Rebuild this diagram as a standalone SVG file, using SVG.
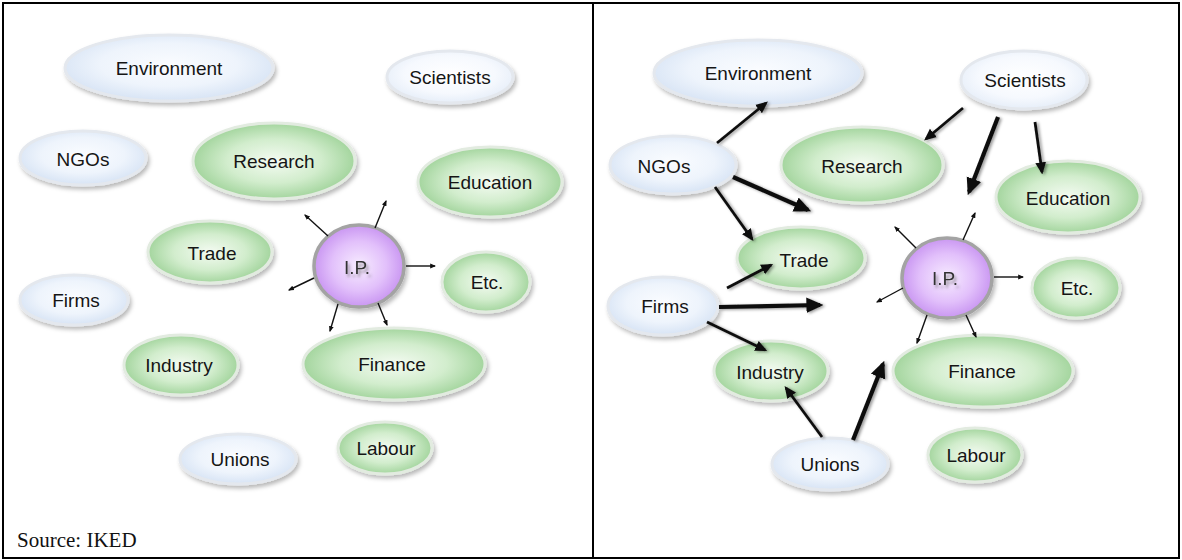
<svg xmlns="http://www.w3.org/2000/svg" width="1182" height="560" viewBox="0 0 1182 560">
<defs>
<style>
.lbl{font-family:"Liberation Sans",Arial,sans-serif;font-size:19px;fill:#151515;text-anchor:middle}
.b{fill:url(#gb);stroke:#e4e8ee;stroke-width:3;filter:url(#sh)}
.w{fill:url(#gw);stroke:#e4e8ee;stroke-width:3;filter:url(#sh)}
.g{fill:url(#gg);stroke:#e2ebe0;stroke-width:3;filter:url(#sh)}
.p{fill:url(#gp);stroke:#a3a3a3;stroke-width:3.5;filter:url(#sh)}
.ipt{font-family:"Liberation Sans",Arial,sans-serif;font-size:19px;fill:#333;text-anchor:middle;filter:url(#ts)}
.thin{stroke:#111;stroke-width:1.4;fill:none;marker-end:url(#ms)}
.med{stroke:#111;stroke-width:2.8;fill:none;marker-end:url(#mm);filter:url(#ash)}
.thk{stroke:#111;stroke-width:4.2;fill:none;marker-end:url(#ml);filter:url(#ash)}
</style>
<radialGradient id="gb" cx="50%" cy="45%" r="60%"><stop offset="0" stop-color="#fafcff"/><stop offset="0.55" stop-color="#eef4fc"/><stop offset="1" stop-color="#d2e0f3"/></radialGradient>
<radialGradient id="gw" cx="50%" cy="45%" r="60%"><stop offset="0" stop-color="#ffffff"/><stop offset="0.6" stop-color="#f6f9fe"/><stop offset="1" stop-color="#e2ebf7"/></radialGradient>
<radialGradient id="gg" cx="50%" cy="50%" r="58%"><stop offset="0" stop-color="#f4fbf2"/><stop offset="0.5" stop-color="#d2edcd"/><stop offset="1" stop-color="#92cc8c"/></radialGradient>
<radialGradient id="gp" cx="50%" cy="50%" r="55%"><stop offset="0" stop-color="#f7ecff"/><stop offset="0.55" stop-color="#e2c0fb"/><stop offset="1" stop-color="#c38cef"/></radialGradient>
<filter id="sh" x="-20%" y="-25%" width="150%" height="170%"><feDropShadow dx="2" dy="3" stdDeviation="2" flood-color="#000" flood-opacity="0.28"/></filter>
<filter id="ash" filterUnits="userSpaceOnUse" x="0" y="0" width="1182" height="560"><feDropShadow dx="2" dy="1" stdDeviation="1.5" flood-color="#000" flood-opacity="0.4"/></filter>
<filter id="ts" x="-20%" y="-40%" width="150%" height="190%"><feDropShadow dx="2" dy="3" stdDeviation="1.5" flood-color="#555" flood-opacity="0.6"/></filter>
<marker id="ms" viewBox="0 0 10 10" refX="8" refY="5" markerWidth="6" markerHeight="6" orient="auto" markerUnits="userSpaceOnUse"><path d="M0,1 L10,5 L0,9 z" fill="#111"/></marker>
<marker id="mm" viewBox="0 0 10 10" refX="8" refY="5" markerWidth="12" markerHeight="12" orient="auto" markerUnits="userSpaceOnUse"><path d="M0,0.5 L10,5 L0,9.5 z" fill="#111"/></marker>
<marker id="ml" viewBox="0 0 10 10" refX="8" refY="5" markerWidth="17" markerHeight="17" orient="auto" markerUnits="userSpaceOnUse"><path d="M0,0.5 L10,5 L0,9.5 z" fill="#111"/></marker>
</defs>
<rect x="0" y="0" width="1182" height="560" fill="#fff"/>
<g id="frame" fill="none" stroke="#000" stroke-width="2">
<rect x="3" y="3" width="1176" height="555"/>
<line x1="593" y1="3" x2="593" y2="558"/>
</g>

<!-- Left panel nodes -->
<g id="L-environment"><ellipse class="b" cx="169" cy="68" rx="104" ry="33"/><text class="lbl" x="169" y="75">Environment</text></g>
<g id="L-scientists"><ellipse class="w" cx="450" cy="77" rx="63" ry="26"/><text class="lbl" x="450" y="84">Scientists</text></g>
<g id="L-ngos"><ellipse class="b" cx="83" cy="158" rx="63" ry="27"/><text class="lbl" x="83" y="166">NGOs</text></g>
<g id="L-research"><ellipse class="g" cx="274" cy="161" rx="81" ry="38"/><text class="lbl" x="274" y="168">Research</text></g>
<g id="L-education"><ellipse class="g" cx="490" cy="182" rx="72" ry="35"/><text class="lbl" x="490" y="189">Education</text></g>
<g id="L-trade"><ellipse class="g" cx="210" cy="252" rx="62" ry="31"/><text class="lbl" x="212" y="260">Trade</text></g>
<g id="L-ip"><ellipse class="p" cx="359" cy="266" rx="45" ry="41"/><text class="ipt" x="357" y="274">I.P.</text></g>
<g id="L-etc"><ellipse class="g" cx="486" cy="282" rx="44" ry="30"/><text class="lbl" x="487" y="289">Etc.</text></g>
<g id="L-firms"><ellipse class="b" cx="74" cy="300" rx="54" ry="25"/><text class="lbl" x="76" y="307">Firms</text></g>
<g id="L-industry"><ellipse class="g" cx="181" cy="365" rx="57" ry="30"/><text class="lbl" x="179" y="372">Industry</text></g>
<g id="L-finance"><ellipse class="g" cx="394" cy="364" rx="91" ry="36"/><text class="lbl" x="392" y="371">Finance</text></g>
<g id="L-unions"><ellipse class="b" cx="238" cy="459" rx="58" ry="25"/><text class="lbl" x="240" y="466">Unions</text></g>
<g id="L-labour"><ellipse class="g" cx="385" cy="448" rx="47" ry="26"/><text class="lbl" x="386" y="455">Labour</text></g>

<!-- Right panel nodes -->
<g id="R-environment"><ellipse class="b" cx="758" cy="73" rx="104" ry="33"/><text class="lbl" x="758" y="80">Environment</text></g>
<g id="R-scientists"><ellipse class="w" cx="1024" cy="80" rx="63" ry="29"/><text class="lbl" x="1025" y="87">Scientists</text></g>
<g id="R-ngos"><ellipse class="b" cx="673" cy="165" rx="63" ry="29"/><text class="lbl" x="664" y="173">NGOs</text></g>
<g id="R-research"><ellipse class="g" cx="862" cy="165" rx="81" ry="38"/><text class="lbl" x="862" y="173">Research</text></g>
<g id="R-education"><ellipse class="g" cx="1068" cy="197" rx="72" ry="36"/><text class="lbl" x="1068" y="205">Education</text></g>
<g id="R-trade"><ellipse class="g" cx="801" cy="258" rx="64" ry="31"/><text class="lbl" x="804" y="267">Trade</text></g>
<g id="R-ip"><ellipse class="p" cx="947" cy="278" rx="45" ry="40"/><text class="ipt" x="945" y="285">I.P.</text></g>
<g id="R-etc"><ellipse class="g" cx="1076" cy="288" rx="44" ry="30"/><text class="lbl" x="1077" y="295">Etc.</text></g>
<g id="R-firms"><ellipse class="b" cx="663" cy="306" rx="55" ry="29"/><text class="lbl" x="665" y="313">Firms</text></g>
<g id="R-industry"><ellipse class="g" cx="771" cy="371" rx="57" ry="30"/><text class="lbl" x="770" y="379">Industry</text></g>
<g id="R-finance"><ellipse class="g" cx="983" cy="371" rx="90" ry="36"/><text class="lbl" x="982" y="378">Finance</text></g>
<g id="R-unions"><ellipse class="b" cx="830" cy="464" rx="58" ry="26"/><text class="lbl" x="830" y="471">Unions</text></g>
<g id="R-labour"><ellipse class="g" cx="975" cy="455" rx="47" ry="27"/><text class="lbl" x="976" y="462">Labour</text></g>

<g id="connectors">
<!-- left IP rays -->
<line class="thin" x1="328" y1="236" x2="305" y2="215"/>
<line class="thin" x1="375" y1="228" x2="386" y2="201"/>
<line class="thin" x1="406" y1="266" x2="435" y2="266"/>
<line class="thin" x1="314" y1="278" x2="289" y2="290"/>
<line class="thin" x1="338" y1="304" x2="330" y2="331"/>
<line class="thin" x1="378" y1="303" x2="387" y2="325"/>
<!-- right IP rays -->
<line class="thin" x1="916" y1="248" x2="895" y2="227"/>
<line class="thin" x1="963" y1="240" x2="975" y2="213"/>
<line class="thin" x1="994" y1="277" x2="1023" y2="277"/>
<line class="thin" x1="903" y1="288" x2="877" y2="302"/>
<line class="thin" x1="927" y1="315" x2="917" y2="343"/>
<line class="thin" x1="966" y1="315" x2="976" y2="337"/>
<!-- right panel influences -->
<line class="med" x1="717" y1="143" x2="766" y2="103"/>
<line class="thk" x1="733" y1="177" x2="808" y2="210"/>
<line class="med" x1="715" y1="187" x2="752" y2="239"/>
<line class="med" x1="963" y1="108" x2="926" y2="139"/>
<line class="thk" x1="998" y1="117" x2="969" y2="192"/>
<line class="med" x1="1035" y1="122" x2="1042" y2="172"/>
<line class="med" x1="727" y1="288" x2="771" y2="265"/>
<line class="thk" x1="719" y1="307" x2="820" y2="305"/>
<line class="med" x1="707" y1="322" x2="765" y2="350"/>
<line class="med" x1="822" y1="437" x2="786" y2="388"/>
<line class="thk" x1="853" y1="440" x2="883" y2="364"/>
</g>

<text x="17" y="547" font-family="'Liberation Serif','Times New Roman',serif" font-size="21" fill="#111">Source: IKED</text>
</svg>
